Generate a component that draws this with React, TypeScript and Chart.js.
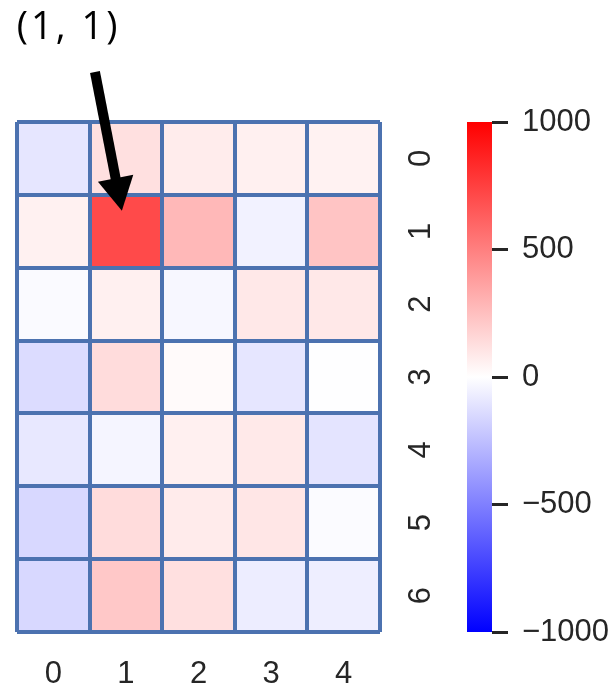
import { useEffect, useRef } from 'react';
import { Chart, registerables } from 'chart.js';

Chart.register(...registerables);

// Heatmap layout: 5 columns x 7 rows
const columnLabels = ['0', '1', '2', '3', '4'];
const rowLabels = ['0', '1', '2', '3', '4', '5', '6'];

// Cell values, one array per row (top to bottom)
const row0 = [-98, 122, 75, 60, 50];
const row1 = [55, 710, 278, -51, 231];
const row2 = [-20, 60, -30, 90, 90];
const row3 = [-137, 137, 20, -98, -5];
const row4 = [-90, -40, 60, 85, -105];
const row5 = [-153, 137, 80, 98, -15];
const row6 = [-153, 215, 122, -70, -65];
const rows = [row0, row1, row2, row3, row4, row5, row6];

// Colour scale range and colour bar ticks
const colorMin = -1000;
const colorMax = 1000;
const colorbarTicks = [-1000, -500, 0, 500, 1000];

// Highlighted cell and its label
const noteText = '(1, 1)';
const noteCol = 1;
const noteRow = 1;

const TEXT = '#262626';
const EDGE = '#4c72b0';
const AXIS_FONT = { family: '"Liberation Sans", Arial, sans-serif', size: 31 };

// blue-white-red diverging colour map
function bwr(v: number): string {
  const c = Math.max(colorMin, Math.min(colorMax, v));
  const t = (c - colorMin) / (colorMax - colorMin);
  let r: number, g: number, b: number;
  if (t < 0.5) {
    r = g = 2 * t * 255;
    b = 255;
  } else {
    r = 255;
    g = b = 2 * (1 - t) * 255;
  }
  return `rgb(${Math.round(r)},${Math.round(g)},${Math.round(b)})`;
}

const overlayPlugin = {
  id: 'heatmapOverlay',
  afterDraw(chart: any) {
    const { ctx } = chart;
    const { x, y, cb } = chart.scales;

    // colour bar
    const top = cb.getPixelForValue(colorMax);
    const bottom = cb.getPixelForValue(colorMin);
    const grad = ctx.createLinearGradient(0, top, 0, bottom);
    grad.addColorStop(0, 'rgb(255,0,0)');
    grad.addColorStop(0.5, 'rgb(255,255,255)');
    grad.addColorStop(1, 'rgb(0,0,255)');
    ctx.save();
    ctx.fillStyle = grad;
    ctx.fillRect(cb.left - 25, top, 25, bottom - top);
    ctx.restore();

    // row labels, rotated, to the right of the grid
    ctx.save();
    ctx.fillStyle = TEXT;
    ctx.font = `${AXIS_FONT.size}px ${AXIS_FONT.family}`;
    ctx.textAlign = 'center';
    ctx.textBaseline = 'middle';
    rowLabels.forEach((label, i) => {
      const py = y.getPixelForValue(i + 0.5);
      ctx.save();
      ctx.translate(y.left + 41, py);
      ctx.rotate(-Math.PI / 2);
      ctx.fillText(label, 0, 0);
      ctx.restore();
    });
    ctx.restore();

    // annotation arrow pointing at the highlighted cell
    const tx = x.getPixelForValue(noteCol);
    const ty = y.getPixelForValue(noteRow + 0.5);
    const sx = x.getPixelForValue(0.574);
    const sy = y.getPixelForValue(-0.686);
    const dx = tx - sx;
    const dy = ty - sy;
    const len = Math.hypot(dx, dy);
    const ux = dx / len;
    const uy = dy / len;
    const nx = -uy;
    const ny = ux;
    const tipX = tx - ux * 21;
    const tipY = ty - uy * 21;
    const headLen = 33;
    const headHalf = 18;
    const baseX = tipX - ux * headLen;
    const baseY = tipY - uy * headLen;
    ctx.save();
    ctx.strokeStyle = '#000';
    ctx.fillStyle = '#000';
    ctx.lineWidth = 10;
    ctx.lineCap = 'butt';
    ctx.beginPath();
    ctx.moveTo(sx, sy);
    ctx.lineTo(baseX + ux * 2, baseY + uy * 2);
    ctx.stroke();
    ctx.beginPath();
    ctx.moveTo(tipX, tipY);
    ctx.lineTo(baseX + nx * headHalf, baseY + ny * headHalf);
    ctx.lineTo(baseX - nx * headHalf, baseY - ny * headHalf);
    ctx.closePath();
    ctx.fill();

    // annotation text
    ctx.font = '500 38px "Open Sans", "Noto Sans", sans-serif';
    (ctx as any).letterSpacing = '3px';
    ctx.textAlign = 'center';
    ctx.textBaseline = 'middle';
    ctx.fillText(noteText, x.getPixelForValue(0.21), y.getPixelForValue(-1.285));
    ctx.restore();
  },
};

export default function App() {
  const canvasRef = useRef<HTMLCanvasElement>(null);

  useEffect(() => {
    const canvas = canvasRef.current;
    if (!canvas) return;

    const datasets = rows.map((vals, r) => ({
      label: `row ${rowLabels[r]}`,
      data: vals.map(() => [r, r + 1] as [number, number]),
      backgroundColor: vals.map((v) => bwr(v)),
      borderWidth: 0,
      barPercentage: 1,
      categoryPercentage: 1,
      grouped: false,
    }));

    const chart = new Chart(canvas, {
      type: 'bar',
      data: { labels: columnLabels, datasets },
      plugins: [overlayPlugin],
      options: {
        animation: false,
        responsive: false,
        devicePixelRatio: 1,
        layout: { padding: { left: 17, top: 122, right: 0, bottom: 0 } },
        plugins: {
          legend: { display: false },
          tooltip: { enabled: false },
        },
        scales: {
          x: {
            type: 'category',
            offset: true,
            grid: { color: EDGE, lineWidth: 4, drawTicks: false, offset: true, z: 1 },
            border: { display: false },
            ticks: { color: TEXT, font: AXIS_FONT, padding: 24, maxRotation: 0 },
            afterFit: (s: any) => {
              s.height = 60;
            },
          },
          y: {
            type: 'linear',
            position: 'right',
            reverse: true,
            min: 0,
            max: rowLabels.length,
            weight: 0,
            grid: { color: EDGE, lineWidth: 4, drawTicks: false, z: 1 },
            border: { display: false },
            ticks: { display: false },
            afterBuildTicks: (s: any) => {
              s.ticks = Array.from({ length: rowLabels.length + 1 }, (_, i) => ({ value: i }));
            },
            afterFit: (s: any) => {
              s.width = 112;
            },
          },
          cb: {
            type: 'linear',
            axis: 'y',
            position: 'right',
            weight: 1,
            min: colorMin,
            max: colorMax,
            grid: {
              drawOnChartArea: false,
              drawTicks: true,
              tickLength: 16,
              tickWidth: 3,
              tickColor: TEXT,
            },
            border: { display: false },
            ticks: {
              color: TEXT,
              font: AXIS_FONT,
              padding: 14,
              callback: (v: any) => {
                const n = Number(v);
                return n < 0 ? `\u2212${Math.abs(n)}` : `${n}`;
              },
            },
            afterBuildTicks: (s: any) => {
              s.ticks = colorbarTicks.map((v) => ({ value: v }));
            },
            afterFit: (s: any) => {
              s.width = 124;
            },
          },
        },
      } as any,
    });

    return () => chart.destroy();
  }, []);

  return (
    <div style={{ position: 'absolute', left: 0, top: 0, width: 616, height: 692, background: '#fff' }}>
      <canvas ref={canvasRef} width={616} height={692} style={{ display: 'block', width: 616, height: 692 }} />
    </div>
  );
}
